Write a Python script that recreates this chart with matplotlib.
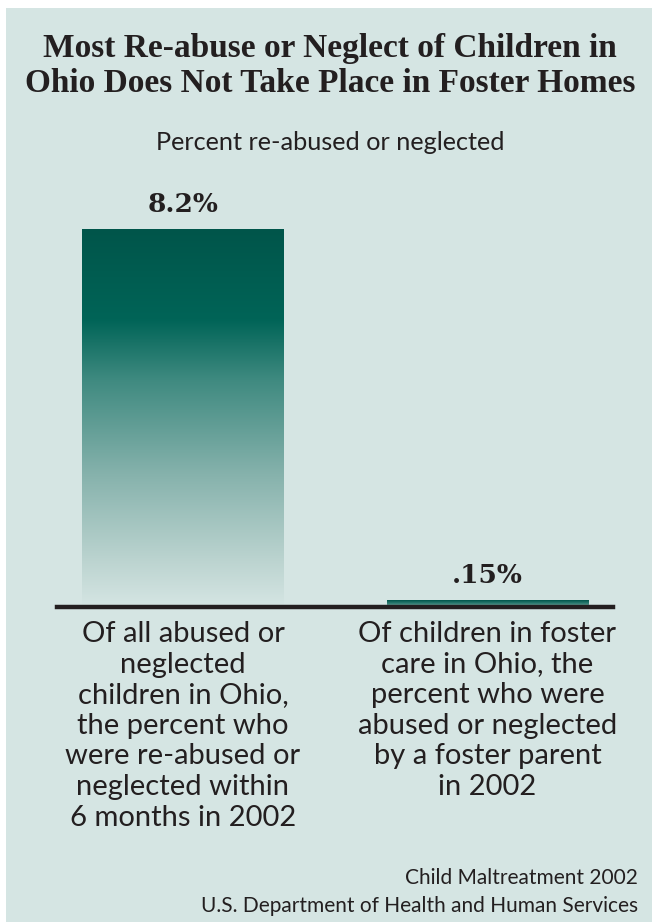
"""Ohio re-abuse / neglect bar chart."""

import numpy as np
import matplotlib.pyplot as plt
from matplotlib.patches import Rectangle
from matplotlib.colors import LinearSegmentedColormap

# data
categories = [
    "Of all abused or\nneglected\nchildren in Ohio,\nthe percent who\nwere re-abused or\nneglected within\n6 months in 2002",
    "Of children in foster\ncare in Ohio, the\npercent who were\nabused or neglected\nby a foster parent\nin 2002",
]
values = [8.2, 0.15]
value_labels = ["8.2%", ".15%"]

title = "Most Re-abuse or Neglect of Children in\nOhio Does Not Take Place in Foster Homes"
subtitle = "Percent re-abused or neglected"
source = "Child Maltreatment 2002\nU.S. Department of Health and Human Services"

bg = "#d5e5e3"
W, H = 652, 922

fig = plt.figure(figsize=(W / 100, H / 100), dpi=100)
fig.patch.set_facecolor("white")
# tinted panel
fig.patches.append(Rectangle((6 / W, 0), 1, 1 - 8 / H, transform=fig.transFigure,
                             facecolor=bg, edgecolor="none", zorder=-5))

# axes placed in pixels: baseline at y=607, top of tallest bar at y=229
left, right = 57, 613
ybase, ytop = 607, 229
ax = fig.add_axes([left / W, 1 - ybase / H, (right - left) / W, (ybase - ytop) / H])
ax.set_facecolor("none")
ax.set_zorder(2)
px_per_unit = 304.5
for s in ax.spines.values():
    s.set_visible(False)
ax.set_xticks([])
ax.set_yticks([])

x = np.arange(len(values))
bars = ax.bar(x, values, width=202 / px_per_unit, color="none", edgecolor="none")

# gradient fills
cmap1 = LinearSegmentedColormap.from_list(
    "g1", [(0, bg), (0.12, "#bcd4d0"), (0.35, "#86b2ac"), (0.6, "#3f8a80"),
           (0.76, "#006457"), (1, "#00554a")])
cmap2 = LinearSegmentedColormap.from_list("g2", [(0, "#a9c8c3"), (0.5, "#2f7e73"), (1, "#00554a")])
grad = np.linspace(0, 1, 256).reshape(-1, 1)
for bar, cm in zip(bars, [cmap1, cmap2]):
    x0, y0 = bar.get_x(), bar.get_y()
    w, h = bar.get_width(), bar.get_height()
    im = ax.imshow(grad, cmap=cm, origin="lower", aspect="auto",
                   extent=[x0, x0 + w, y0, y0 + h], zorder=2)
    im.set_clip_path(bar)
ax.set_xlim((left - 183) / px_per_unit, (right - 183) / px_per_unit)
ax.set_ylim(0, 8.2)

ax.axhline(0, color="#231f20", lw=3.2, zorder=3, clip_on=False)

for xi, v, lab in zip(x, values, value_labels):
    ax.annotate(lab, (xi, v), xytext=(0, 9), textcoords="offset points",
                ha="center", va="bottom", fontsize=19, fontweight="bold",
                family="DejaVu Serif", color="#231f20")

for xi, cat in zip(x, categories):
    ax.annotate(cat, (xi, 0), xytext=(0, -10), textcoords="offset points",
                ha="center", va="top", fontsize=21, family="Lato",
                color="#231f20", linespacing=1.22)

cx = 330 / W
fig.text(cx, 1 - 66 / H, title, ha="center", va="center", fontsize=24,
         fontweight="bold", family="Liberation Serif", color="#231f20", linespacing=1.2)
fig.text(cx, 1 - 142 / H, subtitle, ha="center", va="center", fontsize=18.2,
         family="Lato", color="#231f20")
fig.text(638 / W, 1 - 892 / H, source, ha="right", va="center", fontsize=15,
         family="Lato", color="#231f20", linespacing=1.5)

fig.savefig("out.png", dpi=100, facecolor=fig.get_facecolor())
